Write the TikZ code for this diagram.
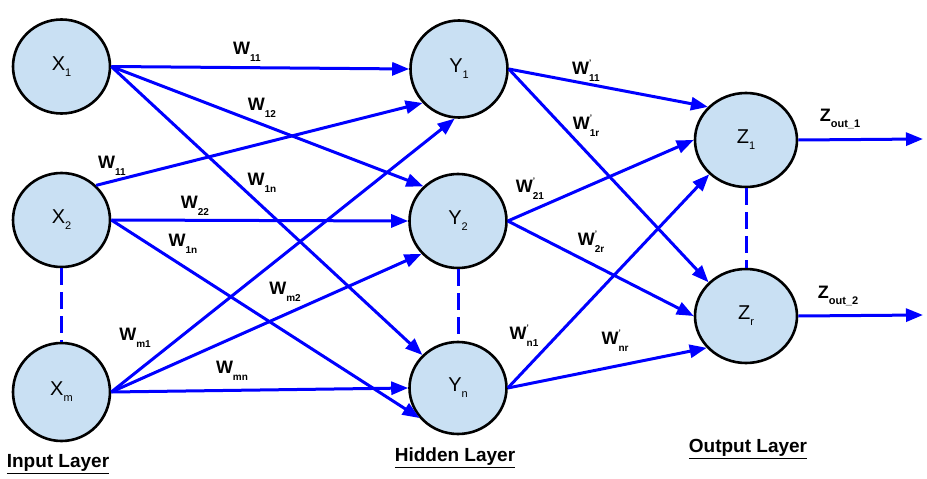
\documentclass[tikz,border=0pt]{standalone}
\usepackage{fontspec}
\setmainfont{Liberation Sans}
\usetikzlibrary{shapes.geometric,arrows.meta}
\definecolor{nodefill}{RGB}{201,224,243}
\definecolor{netblue}{RGB}{0,0,255}
\newcommand{\nlab}[2]{{\fontsize{20}{20}\selectfont #1}\raisebox{-6pt}{\fontsize{11}{11}\selectfont #2}}
\newcommand{\wlab}[1]{{\fontsize{18}{18}\selectfont\bfseries W}\raisebox{-7pt}{\fontsize{10}{10}\selectfont\bfseries #1}}
\newcommand{\wplab}[1]{{\fontsize{18}{18}\selectfont\bfseries W}\rlap{\raisebox{9pt}{\fontsize{8}{8}\selectfont\bfseries '}}\raisebox{-7pt}{\fontsize{10}{10}\selectfont\bfseries #1}}
\newcommand{\zlab}[1]{{\fontsize{18}{18}\selectfont\bfseries Z}\raisebox{-6pt}{\fontsize{11}{11}\selectfont\bfseries #1}}
\newcommand{\layerlab}[1]{\fontsize{19}{19}\selectfont\bfseries\underline{#1}}
\tikzset{
  neuron/.style={ellipse, draw=black, line width=2.6pt, fill=nodefill, inner sep=0pt, minimum width=97pt, minimum height=94pt},
  conn/.style={draw=netblue, line width=3pt, -{Triangle[length=17pt,width=13pt]}},
  dotconn/.style={draw=netblue, line width=3pt, dash pattern=on 17pt off 7pt},
  wtext/.style={inner sep=0pt},
  layertext/.style={inner sep=0pt}
}
\begin{document}
\begin{tikzpicture}[x=1pt,y=-1pt]
\useasboundingbox (0,0) rectangle (927,479);
% input layer
\node[neuron] (X1) at (61.5,66.5) {\nlab{X}{1}};
\node[neuron] (X2) at (61.5,220) {\nlab{X}{2}};
\node[neuron, minimum height=98pt] (Xm) at (61.5,392) {\nlab{X}{m}};
% hidden layer
\node[neuron, minimum height=97pt] (Y1) at (459,69) {\nlab{Y}{1}};
\node[neuron] (Y2) at (458,221) {\nlab{Y}{2}};
\node[neuron, minimum height=92pt] (Yn) at (458,388) {\nlab{Y}{n}};
% output layer
\node[neuron, minimum width=102pt] (Z1) at (746,140) {\nlab{Z}{1}};
\node[neuron, minimum width=102pt] (Zr) at (746,316) {\nlab{Z}{r}};
\coordinate (O1) at (923,139);
\coordinate (O2) at (923,315);
% dashed links
\draw[dotconn] (X2.south) -- (Xm.north);
\draw[dotconn] (Y2.south) -- (Yn.north);
\draw[dotconn] (Z1.south) -- (Zr.north);
% input -> hidden
\draw[conn] (X1.east) -- (Y1.west);
\draw[conn] (X1.east) -- (Y2.135);
\draw[conn] (X1.east) -- (Yn);
\draw[conn] (X2.45) -- (Y1.223);
\draw[conn] (X2.east) -- (Y2.west);
\draw[conn] (X2.east) -- (Yn.218);
\draw[conn] (Xm.east) -- (Y1.265);
\draw[conn] (Xm.east) -- (Y2.222);
\draw[conn] (Xm.east) -- (Yn.west);
% hidden -> output
\draw[conn] (Y1.east) -- (Z1.139);
\draw[conn] (Y1.east) -- (Zr.138);
\draw[conn] (Y2.east) -- (Z1.west);
\draw[conn] (Y2.east) -- (Zr.west);
\draw[conn] (Yn.east) -- (Z1.223);
\draw[conn] (Yn.east) -- (Zr.219);
% outputs
\draw[conn] (Z1.east) -- (O1);
\draw[conn] (Zr.east) -- (O2);
% weight labels
\node[wtext] (w11) at (247,52) {\wlab{11}};
\node[wtext] (w12) at (262,108) {\wlab{12}};
\node[wtext] (w11b) at (112,166) {\wlab{11}};
\node[wtext] (w1n) at (262,183) {\wlab{1n}};
\node[wtext] (w22) at (195,206) {\wlab{22}};
\node[wtext] (w1nb) at (183,244) {\wlab{1n}};
\node[wtext] (wm2) at (285,292) {\wlab{m2}};
\node[wtext] (wm1) at (135,338) {\wlab{m1}};
\node[wtext] (wmn) at (232,371) {\wlab{mn}};
\node[wtext] (v11) at (586,71) {\wplab{11}};
\node[wtext] (v1r) at (586,126) {\wplab{1r}};
\node[wtext] (v21) at (530,189) {\wplab{21}};
\node[wtext] (v2r) at (591,242) {\wplab{2r}};
\node[wtext] (vn1) at (524,336) {\wplab{n1}};
\node[wtext] (vnr) at (615,341) {\wplab{nr}};
\node[wtext] (zo1) at (840,119) {\zlab{out\_1}};
\node[wtext] (zo2) at (838,296) {\zlab{out\_2}};
% layer titles
\node[layertext] (inl) at (58,464) {\layerlab{Input Layer}};
\node[layertext] (hdl) at (455,458) {\layerlab{Hidden Layer}};
\node[layertext] (oul) at (748,449) {\layerlab{Output Layer}};
\end{tikzpicture}
\end{document}
